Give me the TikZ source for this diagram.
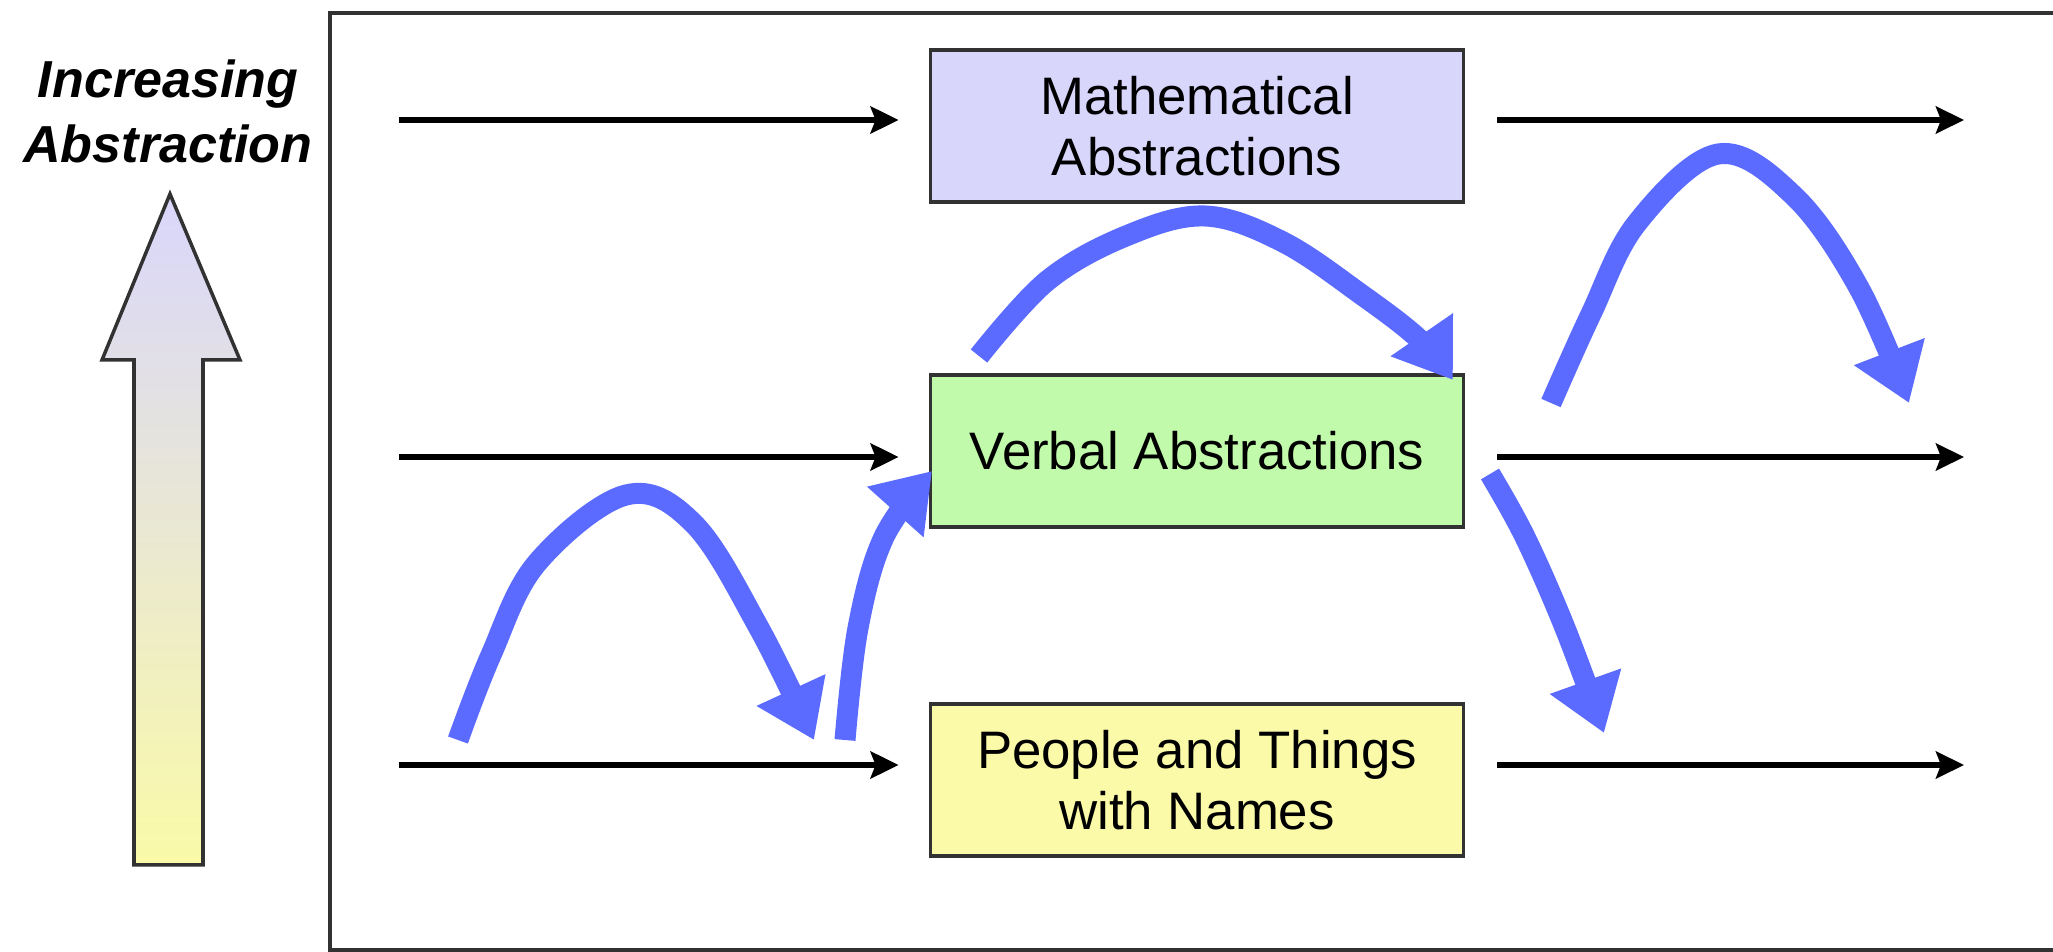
\documentclass[tikz,border=0pt]{standalone}
\usepackage{fontspec}
\setmainfont{Liberation Sans}
\usetikzlibrary{arrows.meta}
\definecolor{jumpblue}{RGB}{91,107,255}
\definecolor{mathfill}{RGB}{217,214,252}
\definecolor{verbfill}{RGB}{193,250,170}
\definecolor{namefill}{RGB}{250,250,168}
\definecolor{edgegray}{RGB}{50,50,50}

\tikzset{
  level/.style={draw=edgegray,line width=0.035cm,minimum width=5.33cm,minimum height=1.52cm,
    align=center,inner sep=0pt,font=\fontsize{15}{17.5}\selectfont},
  flow/.style={line width=0.055cm,-{Stealth[length=0.28cm,width=0.27cm,inset=0.05cm]}},
  jump/.style={jumpblue,line width=0.21cm,line join=round,-{Triangle[length=0.55cm,width=0.72cm]}}
}

\begin{document}
\begin{tikzpicture}[x=0.01cm,y=-0.01cm]
  \def\xl{399};
  \def\xr{1964};
  \useasboundingbox (0,0) rectangle (2053,952);
  \draw[edgegray,line width=0.035cm] (330,13) rectangle (2120,950);
  % big arrow on the left
  \shade[top color=mathfill,bottom color=namefill,draw=edgegray,line width=0.035cm]
    (170,194)--(240,360)--(203,360)--(203,865)--(134,865)--(134,360)--(102,360)--cycle;
  \node[font=\fontsize{14.8}{18.5}\selectfont\bfseries\itshape,align=center] (lbl) at (168,111)
    {Increasing\\Abstraction};
  % levels
  \node[level,fill=mathfill] (math) at (1197,126) {Mathematical\\Abstractions};
  \node[level,fill=verbfill] (verb) at (1197,451) {Verbal Abstractions};
  \node[level,fill=namefill] (name) at (1197,780) {People and Things\\with Names};
  \coordinate (l1) at (\xl,120);
  \coordinate (l2) at (\xl,457);
  \coordinate (l3) at (\xl,765);
  \coordinate (r1) at (\xr,120);
  \coordinate (r2) at (\xr,457);
  \coordinate (r3) at (\xr,765);
  \draw[flow,shorten >=0.3cm] (l1) -- (l1 -| math.west);
  \draw[flow,shorten >=0.3cm] (l2) -- (l2 -| verb.west);
  \draw[flow,shorten >=0.3cm] (l3) -- (l3 -| name.west);
  \draw[flow,shorten <=0.32cm] (r1 -| math.east) -- (r1);
  \draw[flow,shorten <=0.32cm] (r2 -| verb.east) -- (r2);
  \draw[flow,shorten <=0.32cm] (r3 -| name.east) -- (r3);
  % jumps
  \draw[jump] plot[smooth,tension=0.6] coordinates
    {(458,740) (491,655) (537,563) (626,495) (694,524) (759,628) (814,740)};
  \draw[jump] plot[smooth,tension=0.6] coordinates
    {(845,740) (858,628) (884,537) (932,471)};
  \draw[jump] plot[smooth,tension=0.6] coordinates
    {(979,356) (1047,281) (1126,236) (1205,216) (1283,242) (1362,295) (1420,340) (1453,380)};
  \draw[jump] plot[smooth,tension=0.6] coordinates
    {(1551,403) (1591,314) (1637,223) (1718,154) (1794,196) (1859,288) (1909,403)};
  \draw[jump] plot[smooth,tension=0.6] coordinates
    {(1490,474) (1525,537) (1565,628) (1604,733)};
\end{tikzpicture}
\end{document}
